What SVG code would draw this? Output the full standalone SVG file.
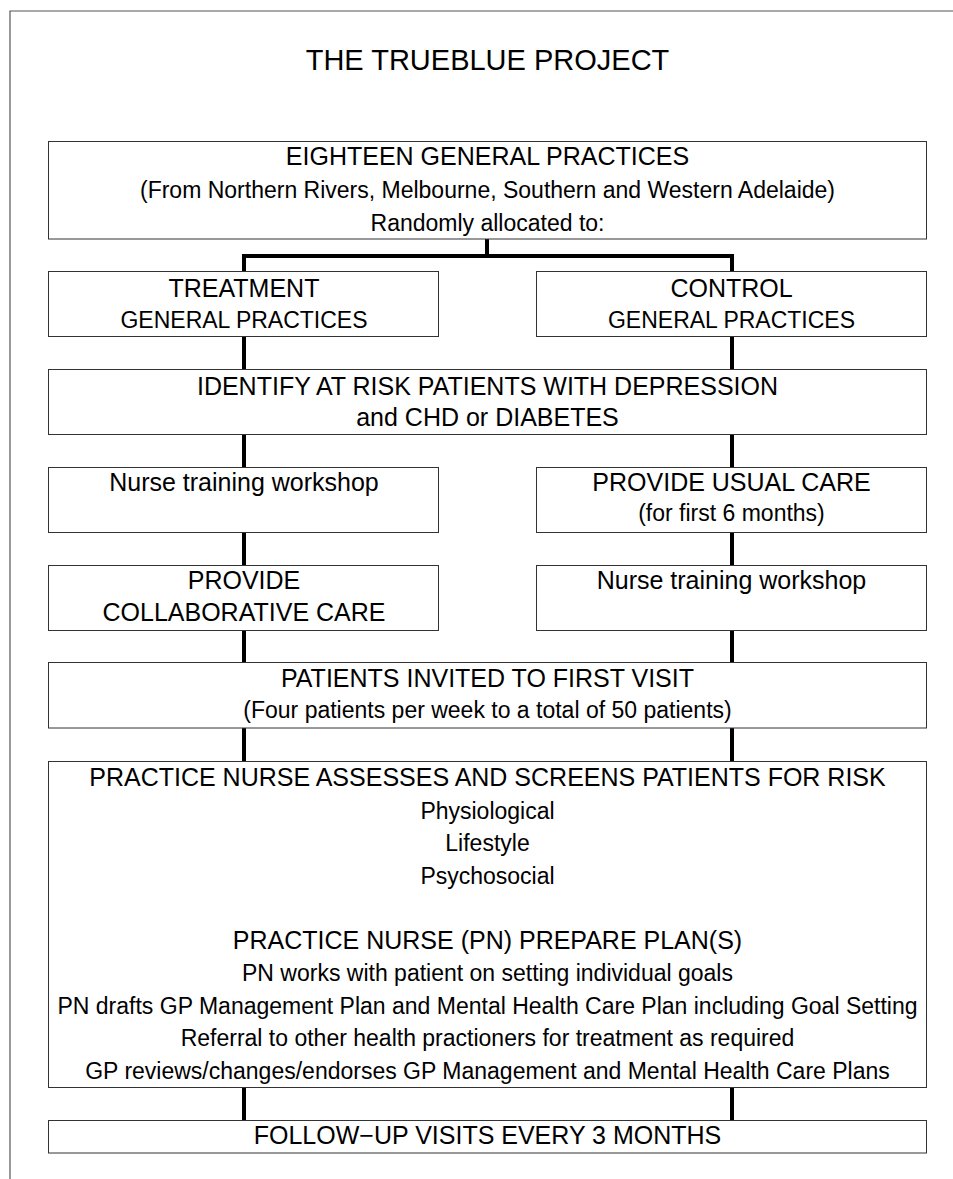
<svg xmlns="http://www.w3.org/2000/svg" width="953" height="1179" viewBox="0 0 953 1179">
<style>
.box{fill:#fff;stroke:#333;stroke-width:1}
.frame{fill:none;stroke:#555;stroke-width:1.2}
.conn{fill:none;stroke:#000;stroke-width:4}
text{font-family:"Liberation Sans",Arial,Helvetica,sans-serif;fill:#000;text-anchor:middle}
.h{font-size:25px}
.s{font-size:23px}
.t{font-size:29px}
</style>
<rect width="953" height="1179" fill="#fff"/>
<path class="frame" d="M953,11 H10 V1179"/>
<text class="t" x="487.5" y="70">THE TRUEBLUE PROJECT</text>

<g id="connectors">
<path class="conn" d="M487,239 V256 M242,256 H734 M244,256 V272 M732,256 V272"/>
<path class="conn" d="M244,337 V370 M732,337 V370"/>
<path class="conn" d="M244,435 V468 M732,435 V468"/>
<path class="conn" d="M244,533 V566 M732,533 V566"/>
<path class="conn" d="M244,631 V663 M732,631 V663"/>
<path class="conn" d="M244,728 V762 M732,728 V762"/>
<path class="conn" d="M244,1088 V1121 M732,1088 V1121"/>
</g>

<g id="eighteen">
<rect class="box" x="48.5" y="141.5" width="878" height="97.5"/>
<text class="h" x="487.5" y="165">EIGHTEEN GENERAL PRACTICES</text>
<text class="s" x="487.5" y="198">(From Northern Rivers, Melbourne, Southern and Western Adelaide)</text>
<text class="s" x="487.5" y="231">Randomly allocated to:</text>
</g>

<g id="treatment">
<rect class="box" x="48.5" y="271.5" width="390" height="65"/>
<text class="h" x="244" y="297">TREATMENT</text>
<text class="s" x="244" y="328">GENERAL PRACTICES</text>
</g>

<g id="control">
<rect class="box" x="536.5" y="271.5" width="390" height="65"/>
<text class="h" x="731.5" y="297">CONTROL</text>
<text class="s" x="731.5" y="328">GENERAL PRACTICES</text>
</g>

<g id="identify">
<rect class="box" x="48.5" y="369.5" width="878" height="65"/>
<text class="h" x="487.5" y="395">IDENTIFY AT RISK PATIENTS WITH DEPRESSION</text>
<text class="h" x="487.5" y="426">and CHD or DIABETES</text>
</g>

<g id="nurse-training-left">
<rect class="box" x="48.5" y="467.5" width="390" height="65"/>
<text class="h" x="244" y="491">Nurse training workshop</text>
</g>

<g id="usual-care">
<rect class="box" x="536.5" y="467.5" width="390" height="65"/>
<text class="h" x="731.5" y="491">PROVIDE USUAL CARE</text>
<text class="s" x="731.5" y="521">(for first 6 months)</text>
</g>

<g id="collaborative-care">
<rect class="box" x="48.5" y="565.5" width="390" height="65"/>
<text class="h" x="244" y="589">PROVIDE</text>
<text class="h" x="244" y="621">COLLABORATIVE CARE</text>
</g>

<g id="nurse-training-right">
<rect class="box" x="536.5" y="565.5" width="390" height="65"/>
<text class="h" x="731.5" y="589">Nurse training workshop</text>
</g>

<g id="patients-invited">
<rect class="box" x="48.5" y="662.5" width="878" height="65.5"/>
<text class="h" x="487.5" y="687">PATIENTS INVITED TO FIRST VISIT</text>
<text class="s" x="487.5" y="718">(Four patients per week to a total of 50 patients)</text>
</g>

<g id="assessment">
<rect class="box" x="48.5" y="761.5" width="878" height="326"/>
<text class="h" x="487.5" y="786">PRACTICE NURSE ASSESSES AND SCREENS PATIENTS FOR RISK</text>
<text class="s" x="487.5" y="818.5">Physiological</text>
<text class="s" x="487.5" y="851">Lifestyle</text>
<text class="s" x="487.5" y="883.5">Psychosocial</text>
<text class="h" x="487.5" y="948.5">PRACTICE NURSE (PN) PREPARE PLAN(S)</text>
<text class="s" x="487.5" y="981">PN works with patient on setting individual goals</text>
<text class="s" x="487.5" y="1013.5">PN drafts GP Management Plan and Mental Health Care Plan including Goal Setting</text>
<text class="s" x="487.5" y="1046">Referral to other health practioners for treatment as required</text>
<text class="s" x="487.5" y="1078.5">GP reviews/changes/endorses GP Management and Mental Health Care Plans</text>
</g>

<g id="follow-up">
<rect class="box" x="48.5" y="1120.5" width="878" height="32.5"/>
<text class="h" x="487.5" y="1144">FOLLOW−UP VISITS EVERY 3 MONTHS</text>
</g>
</svg>
